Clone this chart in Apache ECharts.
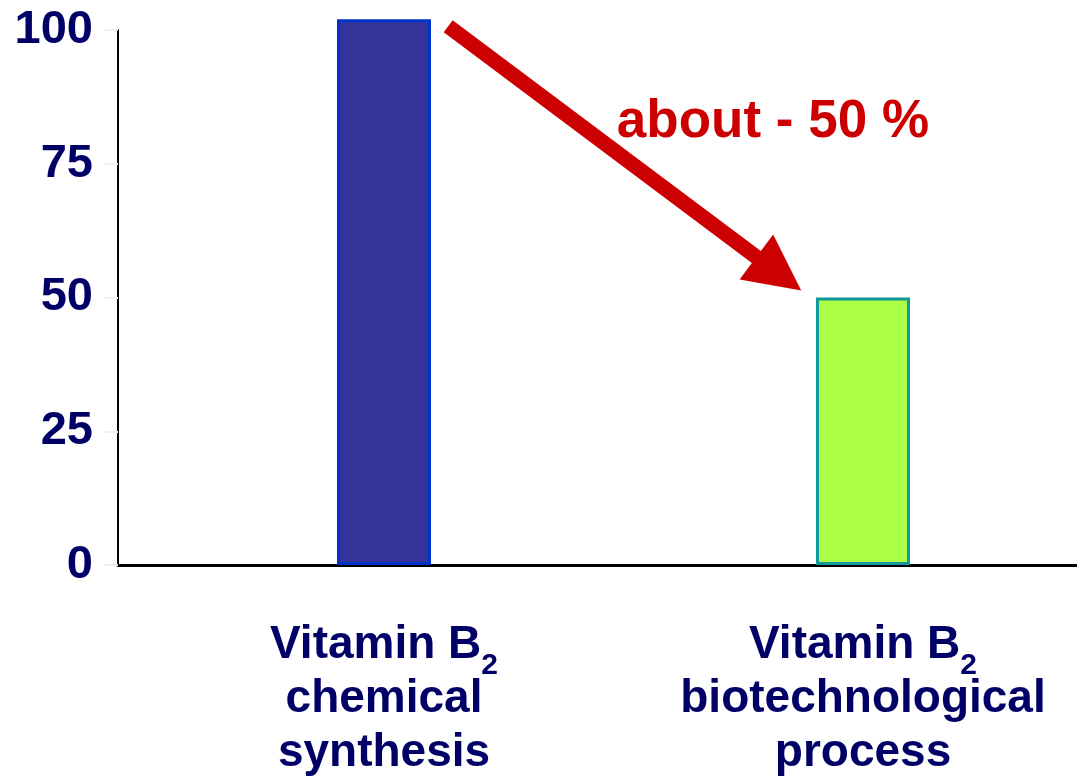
<!DOCTYPE html>
<html>
<head>
<meta charset="utf-8">
<script src="https://cdn.jsdelivr.net/npm/echarts@6/dist/echarts.min.js"></script>
<style>
 html, body { margin: 0; padding: 0; background: #fff; }
 #chart { width: 1077px; height: 782px; }
</style>
</head>
<body>
<div id="chart"></div>
<script type="text/javascript">
// categories and values
var categories = ['chemical synthesis', 'biotechnological process'];
var costValues = [102, 50];
var barFill = ['#333399', '#aaff44'];
var barEdge = ['#0033cc', '#119999'];
var yMin = 0, yMax = 100, yStep = 25;

// arrow + note, given as [fractional category index, value]
var arrowFrom = [0.134, 100.7];
var arrowTo = [0.871, 51.3];
var noteAt = [0.812, 82.8];
var noteText = 'about - 50 %';

var font = 'Liberation Sans, Arial, sans-serif';
var navy = '#000066';
var red = '#cc0000';

var chart = echarts.init(document.getElementById('chart'));

var cfg = {
 animation: false,
 grid: [
  // grid 0 only carries the visible axis lines + y labels
  { left: 118, right: 0, top: 30, bottom: 217, outerBoundsMode: 'none' },
  // grid 1 holds the bars (bands centred under the labels, runs past the right edge)
  { left: 144.5, width: 958, top: 30, bottom: 217, outerBoundsMode: 'none' }
 ],
 xAxis: [
  {
   gridIndex: 0, type: 'value', min: 0, max: 1,
   axisLine: { show: true, lineStyle: { color: '#000', width: 3 } },
   axisTick: { show: false }, axisLabel: { show: false }, splitLine: { show: false }
  },
  {
   gridIndex: 1, type: 'category', data: categories,
   axisLine: { show: false }, axisTick: { show: false }, splitLine: { show: false },
   axisLabel: {
    margin: 53,
    fontFamily: font,
    formatter: function (v) {
     var words = v.split(' ');
     var s = '{m|Vitamin B}{s|2}';
     for (var i = 0; i < words.length; i++) s += '\n{m|' + words[i] + '}';
     return s;
    },
    rich: {
     m: { fontSize: 46, fontWeight: 'bold', color: navy, fontFamily: font, lineHeight: 54 },
     // subscript: pushed down inside the line box
     s: { fontSize: 30, fontWeight: 'bold', color: navy, fontFamily: font, lineHeight: 20, padding: [33, 0, 0, 0], verticalAlign: 'top' }
    }
   }
  }
 ],
 yAxis: [
  {
   gridIndex: 0, type: 'value', min: yMin, max: yMax, interval: yStep,
   axisLine: { show: true, lineStyle: { color: '#000', width: 2 } },
   axisTick: { show: true, length: 13, lineStyle: { color: '#eeeeee', width: 2 } },
   splitLine: { show: false },
   axisLabel: { margin: 25, fontSize: 47, fontWeight: 'bold', color: navy, fontFamily: font }
  },
  { gridIndex: 1, type: 'value', min: yMin, max: yMax, show: false }
 ],
 series: [{
  type: 'bar',
  xAxisIndex: 1,
  yAxisIndex: 1,
  clip: false,
  barWidth: 94,
  data: costValues.map(function (v, i) {
   return { value: v, itemStyle: { color: barFill[i], borderColor: barEdge[i], borderWidth: 3 } };
  })
 }]
};

chart.setOption(cfg);

// convert [fractional index, value] to pixels
function toPx(p) {
 var x0 = chart.convertToPixel({ xAxisIndex: 1 }, 0);
 var x1 = chart.convertToPixel({ xAxisIndex: 1 }, 1);
 return [x0 + p[0] * (x1 - x0), chart.convertToPixel({ yAxisIndex: 1 }, p[1])];
}

var s = toPx(arrowFrom), t = toPx(arrowTo);
var dx = t[0] - s[0], dy = t[1] - s[1];
var len = Math.sqrt(dx * dx + dy * dy);
var ux = dx / len, uy = dy / len;
var nx = -uy, ny = ux;
var shaft = 7.5, headW = 28, headL = 56;
var b = [t[0] - ux * headL, t[1] - uy * headL];
var pts = [
 [s[0] + nx * shaft, s[1] + ny * shaft],
 [b[0] + nx * shaft, b[1] + ny * shaft],
 [b[0] + nx * headW, b[1] + ny * headW],
 t,
 [b[0] - nx * headW, b[1] - ny * headW],
 [b[0] - nx * shaft, b[1] - ny * shaft],
 [s[0] - nx * shaft, s[1] - ny * shaft]
];
var note = toPx(noteAt);

chart.setOption({
 graphic: [
  { type: 'polygon', shape: { points: pts }, style: { fill: red }, z: 10 },
  {
   type: 'text', x: note[0], y: note[1], z: 10,
   style: { text: noteText, fill: red, font: 'bold 53px ' + font, textAlign: 'center', textVerticalAlign: 'middle' }
  }
 ]
});
</script>
</body>
</html>
